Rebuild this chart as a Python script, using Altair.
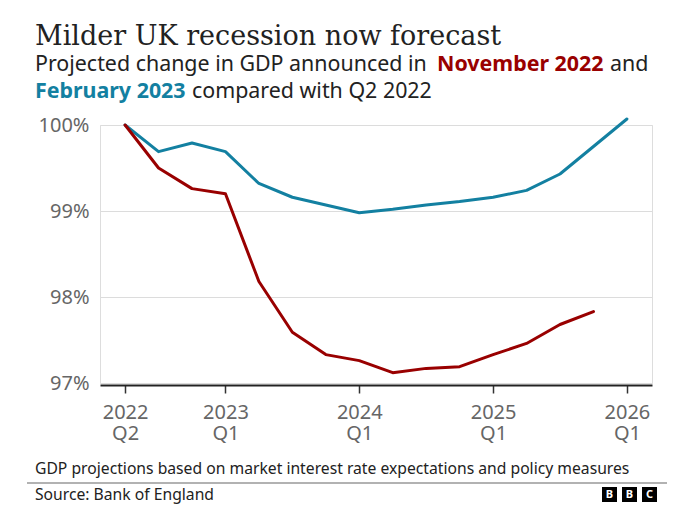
import altair as alt
import pandas as pd

# ---------------- data ----------------
quarters = ["2022 Q2", "2022 Q3", "2022 Q4", "2023 Q1", "2023 Q2", "2023 Q3", "2023 Q4",
            "2024 Q1", "2024 Q2", "2024 Q3", "2024 Q4", "2025 Q1", "2025 Q2", "2025 Q3",
            "2025 Q4", "2026 Q1"]
feb_2023 = [100.0, 99.69, 99.79, 99.69, 99.32, 99.16, 99.07, 98.98, 99.02, 99.07,
            99.11, 99.16, 99.24, 99.43, 99.75, 100.07]
nov_2022 = [100.0, 99.50, 99.26, 99.20, 98.18, 97.59, 97.33, 97.26, 97.12, 97.17,
            97.19, 97.33, 97.46, 97.68, 97.83, None]
series_names = ["February 2023", "November 2022"]
series_colors = ["#1380A1", "#990000"]

tick_index = [0, 3, 7, 11, 15]
tick_labels = [["2022", "Q2"], ["2023", "Q1"], ["2024", "Q1"], ["2025", "Q1"], ["2026", "Q1"]]
y_ticks = [97, 98, 99, 100]

title_text = "Milder UK recession now forecast"
sub1_a, sub1_b, sub1_c = "Projected change in GDP announced in", "November 2022", "and"
sub2_a, sub2_b = "February 2023", "compared with Q2 2022"
note_text = "GDP projections based on market interest rate expectations and policy measures"
source_text = "Source: Bank of England"
logo_letters = ["B", "B", "C"]

# ---------------- table ----------------
rows = []
for name, vals in zip(series_names, [feb_2023, nov_2022]):
    for i, (q, v) in enumerate(zip(quarters, vals)):
        if v is not None:
            rows.append({"idx": i, "quarter": q, "value": v, "series": name})
df = pd.DataFrame(rows)

label_expr = ""
for t, lab in zip(tick_index, tick_labels):
    label_expr += f"datum.value == {t} ? ['{lab[0]}', '{lab[1]}'] : "
label_expr += "''"

W, H = 552, 258
OX, OY = 100, 125  # plot origin in page coordinates

x_enc = alt.X("idx:Q",
              scale=alt.Scale(domain=[-0.75, 15.75], nice=False, zero=False),
              axis=alt.Axis(values=tick_index, labelExpr=label_expr, title=None,
                            grid=False, domainColor="#222222", domainWidth=2,
                            tickColor="#333333", tickWidth=1.5, tickSize=8,
                            offset=2, labelFontSize=20, labelColor="#666666",
                            labelFont="Noto Sans", labelPadding=9,
                            labelLineHeight=21, labelFlush=False))
y_enc = alt.Y("value:Q",
              scale=alt.Scale(domain=[97, 100], nice=False, zero=False),
              axis=alt.Axis(values=y_ticks, labelExpr="datum.value + '%'", title=None,
                            domain=False, ticks=False, gridColor="#dcdcdc", gridWidth=1,
                            labelFontSize=20, labelColor="#666666", labelFont="Noto Sans",
                            labelPadding=11))

lines = alt.Chart(df).mark_line(strokeWidth=3, strokeJoin="round", strokeCap="round").encode(
    x=x_enc, y=y_enc,
    color=alt.Color("series:N", scale=alt.Scale(domain=series_names, range=series_colors),
                    legend=None),
    order=alt.Order("idx:Q"),
    detail="series:N",
)


def txt(text, px, py, size, color, weight="normal", font="Noto Sans", align="left"):
    return alt.Chart(pd.DataFrame({"t": [text]})).mark_text(
        align=align, baseline="alphabetic", font=font, fontSize=size,
        fontWeight=weight, color=color
    ).encode(x=alt.value(px - OX), y=alt.value(py - OY), text="t:N")


SUB = 21.4
texts = [
    txt(title_text, 35, 45, 27, "#222222", font="DejaVu Serif"),
    txt(sub1_a, 35, 71, SUB, "#222222"),
    txt(sub1_b, 437, 71, SUB, series_colors[1], weight="bold"),
    txt(sub1_c, 610, 71, SUB, "#222222"),
    txt(sub2_a, 35, 98, SUB, series_colors[0], weight="bold"),
    txt(sub2_b, 192, 98, SUB, "#222222"),
    txt(note_text, 35, 474, 15.7, "#222222"),
    txt(source_text, 35, 500, 15.7, "#222222"),
]

rule = alt.Chart(pd.DataFrame({"a": [0]})).mark_rule(color="#999999", strokeWidth=1.5).encode(
    x=alt.value(27 - OX), x2=alt.value(667 - OX), y=alt.value(483 - OY))

logo_parts = []
for k, letter in enumerate(logo_letters):
    x0 = 602 + k * 20
    box = alt.Chart(pd.DataFrame({"a": [0]})).mark_rect(color="#000000").encode(
        x=alt.value(x0 - OX), x2=alt.value(x0 + 15 - OX),
        y=alt.value(487 - OY), y2=alt.value(502 - OY))
    let = alt.Chart(pd.DataFrame({"t": [letter]})).mark_text(
        align="center", baseline="middle", font="Noto Sans", fontSize=11,
        fontWeight="bold", color="#ffffff"
    ).encode(x=alt.value(x0 + 7.5 - OX), y=alt.value(495 - OY), text="t:N")
    logo_parts += [box, let]

chart = alt.layer(lines, *texts, rule, *logo_parts).properties(
    width=W, height=H,
    autosize=alt.AutoSizeParams(type="none"),
    padding={"left": OX - 8, "top": OY - 8, "right": 699 - 16 - (OX - 8) - W,
             "bottom": 518 - 16 - (OY - 8) - H},
).configure_view(stroke=None).configure(background="#ffffff")

chart.save("out.html", embed_options={"renderer": "svg", "actions": False})
